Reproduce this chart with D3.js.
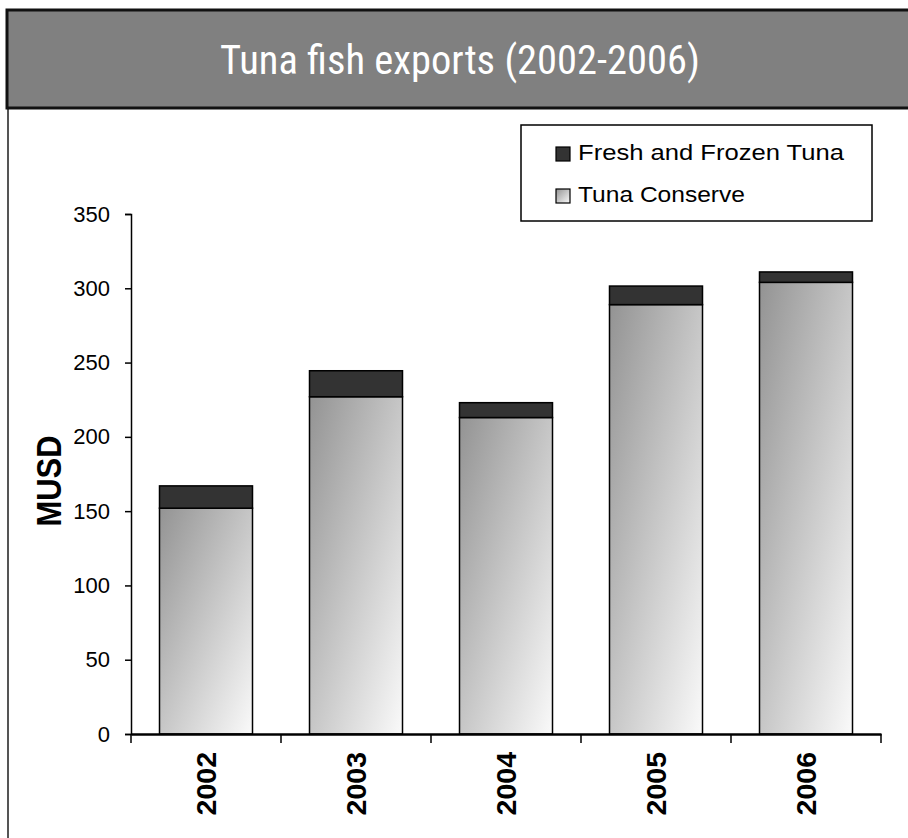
<!DOCTYPE html>
<html><head><meta charset="utf-8">
<script src="https://cdn.jsdelivr.net/npm/d3@7"></script>
<style>body{margin:0;background:#fff}svg{display:block}</style>
</head><body>
<svg id="c" width="908" height="838"></svg>
<script>
const title = "Tuna fish exports (2002-2006)";
const years = ["2002","2003","2004","2005","2006"];
const conserve = [152, 227, 213, 289, 304];
const freshFrozen = [15, 17.5, 10, 12.5, 7];
const seriesNames = ["Fresh and Frozen Tuna","Tuna Conserve"];
const yTicks = [0,50,100,150,200,250,300,350];
const yLabel = "MUSD";

const FONT = "'Liberation Sans', Arial, sans-serif";
const svg = d3.select("#c");
const defs = svg.append("defs");
const g1 = defs.append("linearGradient").attr("id","grad").attr("x1",0).attr("y1",0).attr("x2",1).attr("y2",1);
g1.append("stop").attr("offset","0%").attr("stop-color","#939393");
g1.append("stop").attr("offset","100%").attr("stop-color","#fafafa");

// outer frame
svg.append("line").attr("x1",8).attr("x2",8).attr("y1",10).attr("y2",838).attr("stroke","#555").attr("stroke-width",2);
// title box
svg.append("rect").attr("x",7).attr("y",10).attr("width",905).attr("height",98)
  .attr("fill","#808080").attr("stroke","#111").attr("stroke-width",3);
svg.append("text").attr("x",460).attr("y",74).attr("text-anchor","middle")
  .style("font-family","'Roboto Condensed', 'Liberation Sans Narrow', sans-serif").attr("font-size",41)
  .attr("textLength",480).attr("lengthAdjust","spacingAndGlyphs")
  .attr("fill","#fff").text(title);

const x = d3.scaleBand().domain(years).range([131,881]).paddingInner(0.38).paddingOuter(0.19);
const y = d3.scaleLinear().domain([0,350]).range([734,214]);

const data = years.map((yr,i)=>({year:yr, conserve:conserve[i], fresh:freshFrozen[i]}));
const stack = d3.stack().keys(["conserve","fresh"])(data);

const fills = {conserve:"url(#grad)", fresh:"#333"};
stack.forEach(s=>{
  svg.append("g").selectAll("rect").data(s).join("rect")
    .attr("x",d=>x(d.data.year)).attr("width",x.bandwidth())
    .attr("y",d=>y(d[1])).attr("height",d=>y(d[0])-y(d[1]))
    .attr("fill",fills[s.key]).attr("stroke","#000").attr("stroke-width",1.5);
});

// y axis
const ya = svg.append("g").attr("transform","translate(131,0)")
  .call(d3.axisLeft(y).tickValues(yTicks).tickSize(6).tickPadding(15));
ya.select(".domain").attr("stroke","#000").attr("stroke-width",1.5);
ya.selectAll(".tick line").attr("stroke","#000").attr("stroke-width",1.5);
ya.selectAll("text").style("font-family",FONT).attr("font-size",22).attr("fill","#000");

// x axis
const xa = svg.append("g").attr("transform","translate(0,734)")
  .call(d3.axisBottom(x).tickSize(0).tickFormat(""));
xa.select(".domain").attr("stroke","#000").attr("stroke-width",2.5);
const bounds = [];
years.forEach(yr=>bounds.push(x(yr)-x.step()*x.paddingInner()/2));
bounds.push(x(years[years.length-1])+x.bandwidth()+x.step()*x.paddingInner()/2);
svg.append("g").selectAll("line").data(bounds).join("line")
  .attr("x1",d=>d).attr("x2",d=>d).attr("y1",734).attr("y2",743).attr("stroke","#000").attr("stroke-width",1.5);
svg.append("g").selectAll("text").data(years).join("text")
  .attr("transform",d=>`translate(${x(d)+x.bandwidth()/2+10},752) rotate(-90)`)
  .attr("text-anchor","end").style("font-family",FONT)
  .attr("font-weight","bold").attr("font-size",28.5).attr("fill","#000").text(d=>d);

// y label
svg.append("text").attr("transform","translate(61,481) scale(1.12,1) rotate(-90)").attr("text-anchor","middle")
  .style("font-family",FONT).attr("font-weight","bold").attr("font-size",31)
  .attr("fill","#000").text(yLabel);

// legend
const lg = svg.append("g");
lg.append("rect").attr("x",521).attr("y",125).attr("width",351).attr("height",96)
  .attr("fill","#fff").attr("stroke","#000").attr("stroke-width",1.5);
const lgFills = ["#333","url(#grad)"];
const lgLens = [266, 167];
seriesNames.forEach((n,i)=>{
  const by = 160 + i*42;
  lg.append("rect").attr("x",556).attr("y",by-13).attr("width",14).attr("height",14)
    .attr("fill",lgFills[i]).attr("stroke","#000").attr("stroke-width",1.2);
  lg.append("text").attr("x",578).attr("y",by).style("font-family",FONT)
    .attr("font-size",22).attr("textLength",lgLens[i]).attr("lengthAdjust","spacingAndGlyphs")
    .attr("fill","#000").text(n);
});
</script>
</body></html>
